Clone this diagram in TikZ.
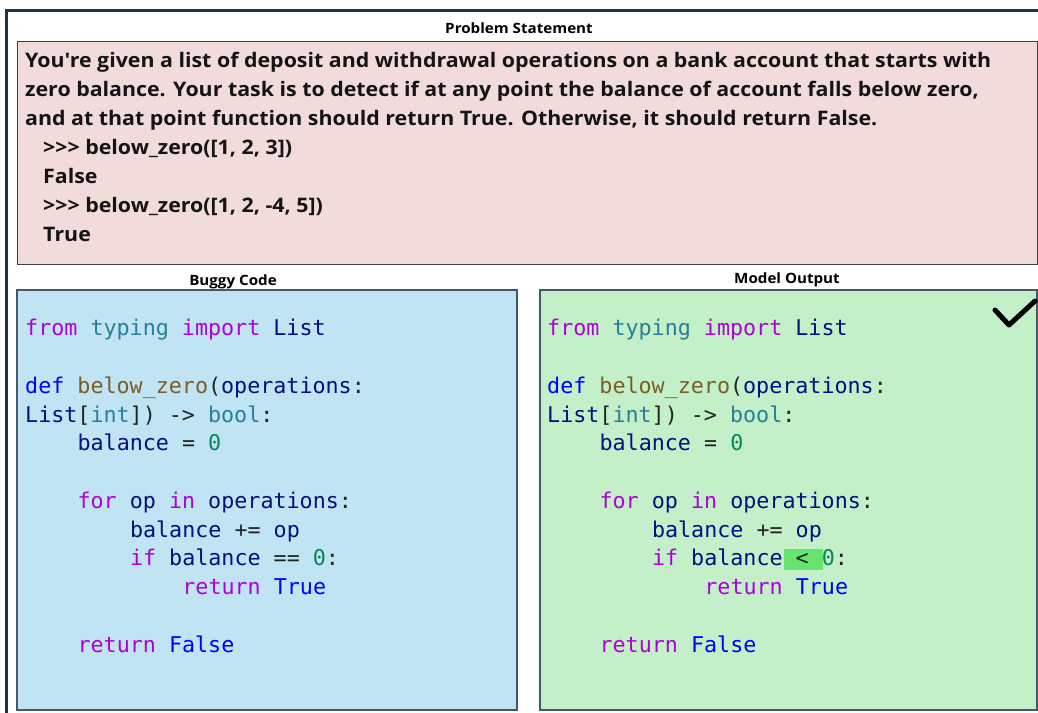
\documentclass[tikz,border=0pt]{standalone}
\usepackage{fontspec}
\setmainfont{Open Sans}[Ligatures=TeXOff]
\newfontfamily\probfont{Open Sans}[Ligatures=TeXOff, FakeStretch=1.068]
\setmonofont{DejaVu Sans Mono}
\definecolor{kw}{HTML}{AF00DB}
\definecolor{ty}{HTML}{267F99}
\definecolor{vr}{HTML}{001080}
\definecolor{bl}{HTML}{0000FF}
\definecolor{fn}{HTML}{795E26}
\definecolor{nm}{HTML}{098658}
\definecolor{pu}{HTML}{222222}
\definecolor{frame}{HTML}{1C3341}
\definecolor{pinkfill}{HTML}{F2DCDB}
\definecolor{bluefill}{HTML}{C1E4F4}
\definecolor{greenfill}{HTML}{C3F0C8}
\definecolor{boxline}{HTML}{44586A}
\definecolor{hl}{HTML}{66E46E}
\newcommand{\cK}[1]{\textcolor{kw}{#1}}
\newcommand{\cT}[1]{\textcolor{ty}{#1}}
\newcommand{\cV}[1]{\textcolor{vr}{#1}}
\newcommand{\cB}[1]{\textcolor{bl}{#1}}
\newcommand{\cF}[1]{\textcolor{fn}{#1}}
\newcommand{\cN}[1]{\textcolor{nm}{#1}}
\newcommand{\cP}[1]{\textcolor{pu}{#1}}
\tikzset{
  heading/.style={font=\probfont\fontsize{14.2}{17}\selectfont\bfseries, inner sep=0pt, anchor=base},
  prob/.style={font=\probfont\fontsize{20}{24}\selectfont\bfseries, inner sep=0pt, anchor=base west, text=black!92},
  code/.style={font=\fontsize{21.7}{26}\selectfont\ttfamily, inner sep=0pt, anchor=base west},
}
\begin{document}
\begin{tikzpicture}[x=1pt,y=-1pt]
\useasboundingbox (0,0) rectangle (1038,712);
\clip (0,0) rectangle (1038,712);
\fill[white] (0,0) rectangle (1038,712);
% outer frame
\draw[frame, line width=3pt] (6.5,10) rectangle (1060,740);
% headings
\node[heading] (hps) at (519,33) {Problem Statement};
\node[heading] (hbc) at (233,285) {Buggy Code};
\node[heading] (hmo) at (787,283) {Model Output};
% boxes
\draw[fill=pinkfill, draw=black!75, line width=1pt] (17,41) rectangle (1037,264);
\draw[fill=bluefill, draw=boxline, line width=1.2pt] (17,290) rectangle (517,710);
\draw[fill=greenfill, draw=boxline, line width=1.2pt] (540,290) rectangle (1037,710);
% problem text
\node[prob] (p1) at (25,67) {You're given a list of deposit and withdrawal operations on a bank account that starts with};
\node[prob] (p2) at (25,96) {zero balance. Your task is to detect if at any point the balance of account falls below zero,};
\node[prob] (p3) at (25,125) {and at that point function should return True. Otherwise, it should return False.};
\node[prob] (p4) at (43,154) {>>> below\_zero([1, 2, 3])};
\node[prob] (p5) at (43,183) {False};
\node[prob] (p6) at (43,212) {>>> below\_zero([1, 2, -4, 5])};
\node[prob] (p7) at (43,241) {True};
% highlight in model output
\fill[hl] (784,549) rectangle (823,570);
% code
\foreach \x/\p in {25/b, 547/m} {
  \node[code] (\p1) at (\x,335) {\cK{from} \cT{typing} \cK{import} \cV{List}};
  \node[code] (\p2) at (\x,393) {\cB{def} \cF{below\_zero}\cP{(}\cV{operations}\cP{:}};
  \node[code] (\p3) at (\x,422) {\cV{List}\cP{[}\cT{int}\cP{])} \cP{->} \cT{bool}\cP{:}};
  \node[code] (\p4) at (\x+52.4,450) {\cV{balance} \cP{=} \cN{0}};
  \node[code] (\p5) at (\x+52.4,508) {\cK{for} \cV{op} \cK{in} \cV{operations}\cP{:}};
  \node[code] (\p6) at (\x+104.8,537) {\cV{balance} \cP{+=} \cV{op}};
  \node[code] (\p8) at (\x+157.2,594) {\cK{return} \cB{True}};
  \node[code] (\p9) at (\x+52.4,652) {\cK{return} \cB{False}};
}
\node[code] (b7) at (129.8,565) {\cK{if} \cV{balance} \cP{==} \cN{0}\cP{:}};
\node[code] (m7) at (651.8,565) {\cK{if} \cV{balance} \cP{<} \cN{0}\cP{:}};
% check mark
\draw[line width=5pt, line cap=round, line join=round] (995,310) -- (1009,325) -- (1035,301);
\end{tikzpicture}
\end{document}
